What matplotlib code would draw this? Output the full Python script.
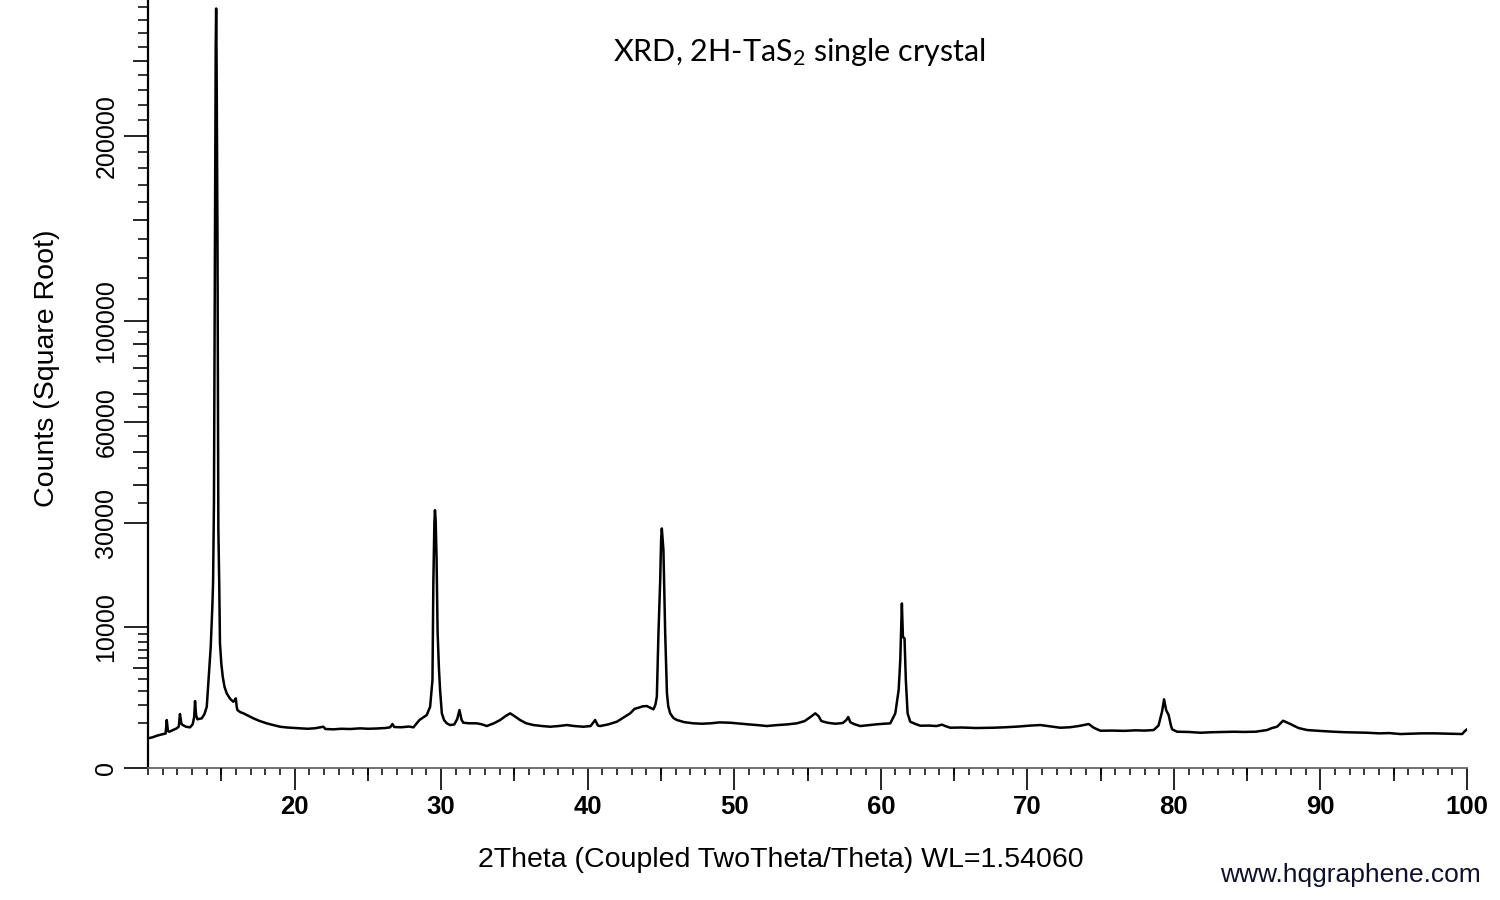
import numpy as np
import matplotlib.pyplot as plt
from matplotlib import font_manager
from matplotlib.ticker import MultipleLocator, NullFormatter

# XRD pattern (2theta in degrees, counts)
two_theta = [
    10.00, 10.30, 10.60, 10.90, 11.20, 11.28, 11.36, 11.45, 11.70, 11.96,
    12.10, 12.18, 12.28, 12.37, 12.60, 12.87, 13.05, 13.15, 13.21, 13.28,
    13.37, 13.67, 13.85, 14.01, 14.16, 14.28, 14.39, 14.44, 14.50, 14.56,
    14.62, 14.65, 14.68, 14.74, 14.80, 14.86, 14.91, 15.00, 15.10, 15.22,
    15.37, 15.60, 15.82, 15.92, 15.99, 16.05, 16.10, 16.30, 16.51, 16.80,
    17.19, 17.60, 18.10, 18.50, 19.01, 19.50, 20.00, 20.38, 20.90, 21.40,
    21.97, 22.10, 22.65, 23.20, 23.80, 24.47, 25.00, 25.60, 26.20, 26.52,
    26.68, 26.80, 27.30, 27.80, 28.11, 28.52, 29.02, 29.25, 29.41, 29.47,
    29.54, 29.58, 29.63, 29.69, 29.76, 29.85, 29.93, 30.05, 30.20, 30.39,
    30.61, 30.90, 31.10, 31.25, 31.40, 31.52, 31.90, 32.44, 32.80, 33.12,
    33.60, 34.03, 34.40, 34.71, 35.00, 35.39, 35.80, 36.30, 36.90, 37.44,
    38.00, 38.58, 39.10, 39.71, 40.20, 40.51, 40.70, 40.85, 41.40, 41.99,
    42.50, 42.90, 43.20, 43.47, 43.75, 44.04, 44.30, 44.49, 44.62, 44.72,
    44.83, 44.95, 45.01, 45.06, 45.12, 45.17, 45.29, 45.41, 45.50, 45.63,
    45.85, 46.09, 46.60, 47.22, 47.80, 48.40, 49.00, 49.73, 50.30, 51.00,
    51.60, 52.23, 52.90, 53.60, 54.27, 54.80, 55.20, 55.53, 55.75, 55.95,
    56.40, 56.90, 57.40, 57.65, 57.78, 57.92, 58.20, 58.60, 59.20, 59.80,
    60.30, 60.65, 60.99, 61.22, 61.33, 61.44, 61.51, 61.62, 61.71, 61.83,
    62.01, 62.40, 62.70, 63.30, 63.80, 64.18, 64.40, 64.74, 65.50, 66.50,
    67.70, 68.50, 69.40, 70.20, 70.89, 71.50, 72.25, 72.90, 73.50, 74.19,
    74.53, 74.98, 75.80, 76.60, 77.40, 78.00, 78.62, 78.95, 79.19, 79.33,
    79.47, 79.64, 79.80, 79.88, 80.22, 81.00, 81.81, 82.60, 83.40, 84.08,
    84.80, 85.60, 86.36, 86.70, 87.04, 87.45, 87.95, 88.50, 89.09, 89.90,
    90.90, 91.70, 92.50, 93.18, 94.00, 94.70, 95.46, 96.20, 96.90, 97.73,
    98.50, 99.20, 99.67, 99.85, 100.00,
]
counts = [
    441, 470, 520, 560, 594, 1151, 680, 658, 720, 787,
    860, 1456, 980, 923, 850, 827, 960, 1300, 2242, 1400,
    1185, 1234, 1450, 1877, 4507, 7349, 12995, 17090, 35070, 127370,
    260000, 288470, 250000, 141880, 28767, 17090, 7804, 5500, 4163, 3300,
    2787, 2400, 2195, 2300, 2426, 1900, 1680, 1560, 1494, 1380,
    1234, 1110, 998, 930, 852, 820, 800, 787, 770, 790,
    852, 760, 748, 770, 760, 787, 770, 780, 800, 827,
    967, 840, 830, 860, 827, 1151, 1403, 1877, 3868, 17038,
    30000, 33245, 30500, 21962, 9278, 5000, 3038, 1494, 1150, 998,
    923, 950, 1200, 1680, 1150, 1025, 1000, 998, 950, 881,
    1000, 1151, 1350, 1494, 1350, 1151, 1000, 923, 880, 852,
    880, 923, 880, 852, 880, 1151, 900, 881, 950, 1071,
    1300, 1494, 1750, 1816, 1900, 1920, 1800, 1721, 2000, 2539,
    9062, 17652, 26000, 28696, 26000, 23735, 9062, 2787, 1900, 1494,
    1250, 1151, 1050, 998, 980, 1000, 1040, 1025, 990, 950,
    920, 881, 920, 950, 998, 1100, 1300, 1494, 1350, 1100,
    1020, 980, 1011, 1150, 1300, 1050, 960, 881, 920, 960,
    980, 998, 1494, 3038, 5825, 13548, 8611, 8401, 3868, 1494,
    1071, 960, 894, 900, 880, 940, 880, 811, 820, 800,
    811, 830, 860, 900, 923, 870, 811, 830, 880, 967,
    811, 695, 700, 690, 710, 700, 721, 900, 1583, 2357,
    1680, 1403, 900, 748, 658, 650, 622, 640, 650, 658,
    650, 660, 721, 800, 852, 1117, 967, 800, 721, 690,
    658, 640, 630, 622, 600, 610, 577, 590, 600, 601,
    590, 580, 577, 680, 748,
]

x_major = [20, 30, 40, 50, 60, 70, 80, 90, 100]
x_medium = [15, 25, 35, 45, 55, 65, 75, 85, 95]
y_major = [0, 10000, 30000, 60000, 100000, 200000]
y_medium = [5000, 40000, 50000, 70000, 80000, 90000, 150000, 250000]
y_minor = ([1000, 2000, 3000, 4000, 6000, 7000, 8000, 9000]
           + [35000, 45000, 55000, 65000, 75000, 85000, 95000]
           + [v for v in range(110000, 300000, 10000)
              if v not in (150000, 200000, 250000)])

installed = {f.name for f in font_manager.fontManager.ttflist}
narrow = 'Liberation Sans Narrow' in installed
ytick_family = 'Liberation Sans Narrow' if narrow else 'Liberation Sans'
ytick_size = 21 if narrow else 18

plt.rcParams['font.family'] = 'Liberation Sans'
plt.rcParams['mathtext.fontset'] = 'custom'
plt.rcParams['mathtext.rm'] = 'Lato'
plt.rcParams['mathtext.it'] = 'Lato'


def fwd(v):
    return np.sqrt(np.clip(v, 0, None))


def inv(v):
    return np.square(v)


fig = plt.figure(figsize=(15, 9), dpi=100)
rect = [148 / 1500, 132 / 900, 1319 / 1500, 768 / 900]
ax = fig.add_axes(rect)
ax.plot(two_theta, counts, color='black', lw=1.8)
ax.set_yscale('function', functions=(fwd, inv))
ax.set_xlim(10, 100)
ax.set_ylim(0, 295000)

for s in ('top', 'right'):
    ax.spines[s].set_visible(False)
ax.spines['left'].set_linewidth(1.6)
ax.spines['bottom'].set_linewidth(1.3)
ax.spines['bottom'].set_color('#666666')

ax.set_xticks(x_major)
ax.xaxis.set_minor_locator(MultipleLocator(1))
ax.set_yticks(y_major)
ax.set_yticks(y_minor, minor=True)
ax.yaxis.set_minor_formatter(NullFormatter())
ax.set_yticklabels([str(v) for v in y_major])

ax.tick_params(axis='x', which='major', length=15.8, width=1.2, pad=4,
               labelsize=18.5)
ax.tick_params(axis='x', which='minor', length=5, width=1.1)
ax.tick_params(axis='y', which='major', length=17.3, width=1.2, pad=4,
               labelrotation=90)
ax.tick_params(axis='y', which='minor', length=7.2, width=1.1)
for lab in ax.get_xticklabels():
    lab.set_fontweight('bold')
for lab in ax.get_yticklabels():
    lab.set_family(ytick_family)
    lab.set_fontsize(ytick_size)
    lab.set_va('center')

# medium-length ticks on an overlaid, frameless axes
ax2 = fig.add_axes(rect, frameon=False)
ax2.set_yscale('function', functions=(fwd, inv))
ax2.set_xlim(10, 100)
ax2.set_ylim(0, 295000)
ax2.set_xticks(x_medium)
ax2.set_yticks(y_medium)
ax2.tick_params(axis='both', width=1.2,
                labelbottom=False, labelleft=False)
ax2.tick_params(axis='y', length=10.8)
ax2.tick_params(axis='x', length=9.4)

fig.text(0.0313, 0.591, 'Counts (Square Root)', rotation=90,
         ha='center', va='center', fontsize=20.5)
fig.text(0.5207, 0.0444, '2Theta (Coupled TwoTheta/Theta) WL=1.54060',
         ha='center', va='center', fontsize=20.5)
fig.text(0.5327, 0.942, r'XRD, 2H-TaS$_2$ single crystal', family='Lato',
         ha='center', va='center', fontsize=22)
fig.text(0.9, 0.0278, 'www.hqgraphene.com', ha='center', va='center',
         fontsize=19, color='#10102a')

fig.savefig('out.png', dpi=100)
